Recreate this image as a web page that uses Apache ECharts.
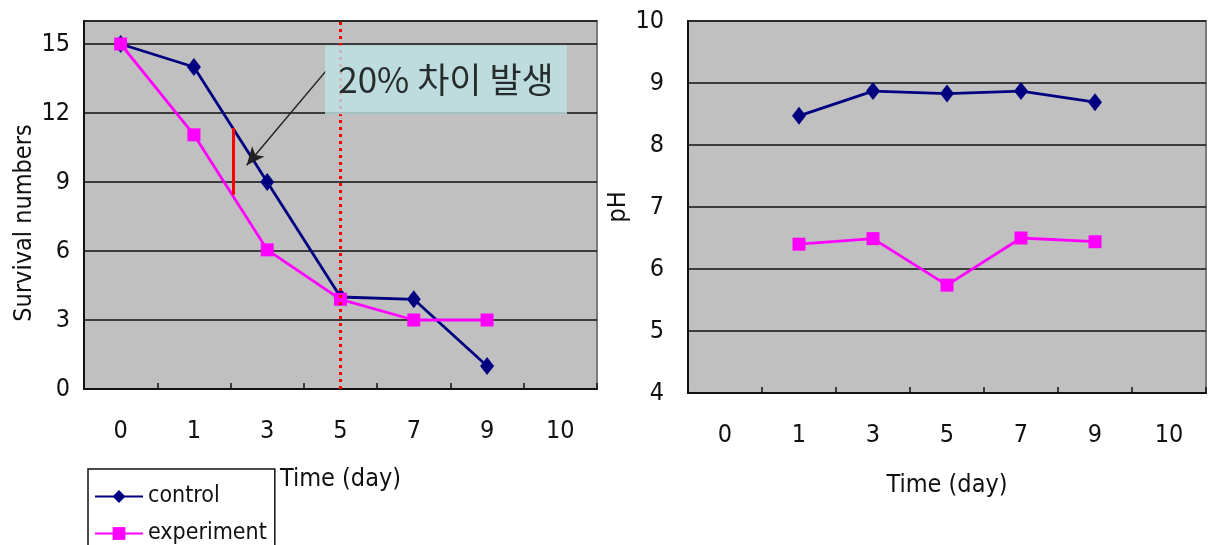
<!DOCTYPE html>
<html>
<head>
<meta charset="utf-8">
<script src="https://cdn.jsdelivr.net/npm/echarts@6/dist/echarts.min.js"></script>
<style>
  html, body { margin: 0; padding: 0; background: #ffffff; }
  #chart { width: 1208px; height: 545px; }
</style>
</head>
<body>
<div id="chart"></div>
<script>
// Time points (day) shown on both category axes
const days = ['0', '1', '3', '5', '7', '9', '10'];

// Survival numbers per day
const survivalControl = [15, 14, 9, 4, 3.9, 1, null];
const survivalExperiment = [15, 11.05, 6.05, 3.9, 3, 3, null];

// pH per day (no reading on day 0 and day 10)
const phControl = [null, 8.47, 8.87, 8.83, 8.87, 8.69, null];
const phExperiment = [null, 6.4, 6.49, 5.74, 6.5, 6.44, null];

// Callout on the survival panel (x in category-index units)
const gapSegment = [[1.54, 11.35], [1.54, 8.45]];
const arrowFrom = [2.8, 13.82];
const arrowTo = [1.72, 9.73];
const calloutAt = [4.44, 13.45];
const calloutText = '20% 차이 발생';
const markDayIndex = 3;

const NAVY = '#000080';
const MAGENTA = '#ff00ff';
const FONT = '"DejaVu Sans Condensed", "Liberation Sans Narrow", Roboto, sans-serif';

const chart = echarts.init(document.getElementById('chart'), null, { renderer: 'canvas' });

const gridStyle = {
  show: true,
  backgroundColor: '#c0c0c0',
  borderColor: '#7a7a7a',
  borderWidth: 2
};

function catAxis(gridIndex, nameGap) {
  return {
    type: 'category',
    gridIndex: gridIndex,
    data: days,
    boundaryGap: true,
    name: 'Time (day)',
    nameLocation: 'middle',
    nameGap: nameGap,
    nameTextStyle: { fontFamily: FONT, fontSize: 25, color: '#111' },
    axisLine: { show: true, onZero: false, lineStyle: { color: '#111', width: 2 } },
    axisTick: { show: true, inside: true, length: 6, lineStyle: { color: '#111', width: 1.5 } },
    axisLabel: { fontFamily: FONT, fontSize: 25, color: '#111', margin: 30 },
    splitLine: { show: false }
  };
}

function valAxis(gridIndex, min, max, interval, name, nameGap, margin, namePadding) {
  return {
    type: 'value',
    gridIndex: gridIndex,
    min: min,
    max: max,
    interval: interval,
    name: name,
    nameLocation: 'middle',
    nameGap: nameGap,
    nameTextStyle: { fontFamily: FONT, fontSize: 25, color: '#111', padding: namePadding },
    axisLine: { show: true, onZero: false, lineStyle: { color: '#111', width: 2 } },
    axisTick: { show: false },
    axisLabel: {
      fontFamily: FONT, fontSize: 25, color: '#111', margin: margin,
      formatter: function (v) { return (v - min) % interval === 0 ? String(v) : ''; }
    },
    splitLine: { show: true, lineStyle: { color: '#111', width: 1.5 } }
  };
}

const diamond = { symbol: 'diamond', symbolSize: [14, 18] };
const square = { symbol: 'rect', symbolSize: 13 };

const option = {
  backgroundColor: '#ffffff',
  animation: false,
  grid: [
    Object.assign({ left: 84, right: 611, top: 21, bottom: 156 }, gridStyle),
    Object.assign({ left: 688, right: 2, top: 21, bottom: 152 }, gridStyle)
  ],
  xAxis: [
    catAxis(0, 78),
    { type: 'value', gridIndex: 0, min: -0.5, max: 6.5, show: false },
    catAxis(1, 80)
  ],
  yAxis: [
    valAxis(0, 0, 16, 3, 'Survival numbers', 46, 14, [0, 36, 0, 0]),
    valAxis(1, 4, 10, 1, 'pH', 48, 24, [0, 0, 0, 0])
  ],
  legend: {
    data: ['control', 'experiment'],
    orient: 'vertical',
    left: 88,
    top: 469,
    height: 120,
    itemWidth: 48,
    itemHeight: 16,
    itemGap: 14,
    padding: [16, 8, 16, 6],
    borderColor: '#111',
    borderWidth: 1.5,
    backgroundColor: '#ffffff',
    textStyle: { fontFamily: FONT, fontSize: 23, color: '#111' }
  },
  series: [
    Object.assign({
      name: 'control',
      type: 'line',
      xAxisIndex: 0,
      yAxisIndex: 0,
      data: survivalControl,
      lineStyle: { color: NAVY, width: 2.8 },
      itemStyle: { color: NAVY },
      z: 3
    }, diamond),
    Object.assign({
      name: 'experiment',
      type: 'line',
      xAxisIndex: 0,
      yAxisIndex: 0,
      data: survivalExperiment,
      lineStyle: { color: MAGENTA, width: 2.8 },
      itemStyle: { color: MAGENTA },
      z: 4
    }, square),
    {
      // vertical gap marker and the arrow pointing at it
      type: 'line',
      xAxisIndex: 1,
      yAxisIndex: 0,
      data: gapSegment,
      symbol: 'none',
      lineStyle: { color: '#ff0000', width: 3 },
      silent: true,
      z: 5,
      markLine: {
        silent: true,
        symbol: ['none', 'arrow'],
        symbolSize: [12, 18],
        label: { show: false },
        lineStyle: { color: '#222', width: 1.5, type: 'solid' },
        data: [[{ coord: arrowFrom }, { coord: arrowTo }]]
      }
    },
    {
      // day-5 reference line
      type: 'line',
      xAxisIndex: 1,
      yAxisIndex: 0,
      data: [],
      silent: true,
      z: 2,
      markLine: {
        silent: true,
        symbol: ['none', 'none'],
        label: { show: false },
        lineStyle: { color: '#ff0000', width: 3, type: [3, 4] },
        data: [{ xAxis: markDayIndex }]
      }
    },
    {
      // callout box
      type: 'scatter',
      xAxisIndex: 1,
      yAxisIndex: 0,
      data: [calloutAt],
      symbolSize: 0,
      silent: true,
      z: 10,
      label: {
        show: true,
        position: 'inside',
        formatter: calloutText,
        fontFamily: '"Noto Sans CJK KR", sans-serif',
        fontSize: 35,
        color: '#000',
        backgroundColor: '#bde2e5',
        width: 242,
        height: 69,
        align: 'center',
        verticalAlign: 'middle',
        lineHeight: 69
      }
    },
    Object.assign({
      name: 'control',
      type: 'line',
      xAxisIndex: 2,
      yAxisIndex: 1,
      data: phControl,
      lineStyle: { color: NAVY, width: 2.8 },
      itemStyle: { color: NAVY }
    }, diamond),
    Object.assign({
      name: 'experiment',
      type: 'line',
      xAxisIndex: 2,
      yAxisIndex: 1,
      data: phExperiment,
      lineStyle: { color: MAGENTA, width: 2.8 },
      itemStyle: { color: MAGENTA }
    }, square)
  ]
};

chart.setOption(option);
</script>
</body>
</html>
